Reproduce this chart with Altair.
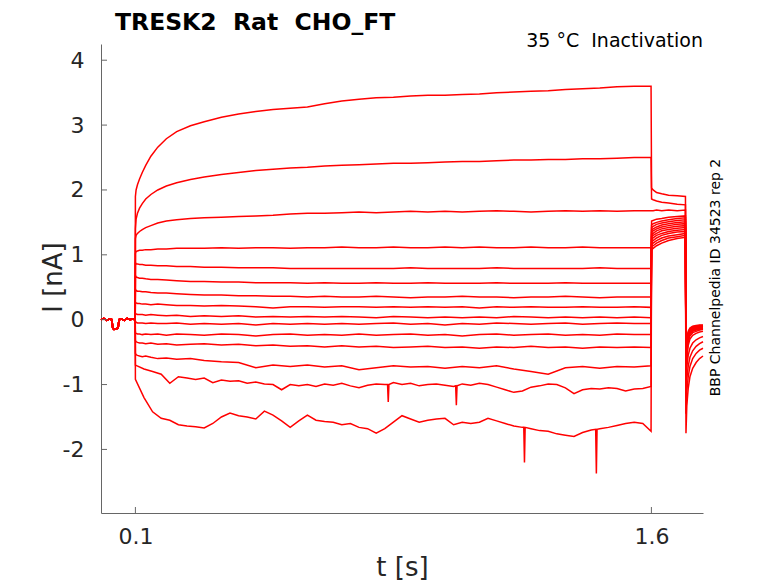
import altair as alt
import pandas as pd

# ---------------- data ----------------
T_BASE = [0.0, 0.008, 0.016, 0.024, 0.032, 0.034, 0.038, 0.044, 0.05, 0.052, 0.06, 0.068, 0.076, 0.084, 0.092, 0.0995]
I_BASE = [0.0, 0.02, -0.01, 0.01, 0.0, -0.13, -0.15, -0.14, -0.13, 0.0, 0.01, -0.01, 0.02, 0.0, 0.01, 0.0]

T_PULSE = [0.1, 0.102, 0.106, 0.112, 0.12, 0.13, 0.145, 0.165, 0.19, 0.22, 0.26, 0.3, 0.35, 0.4, 0.45, 0.5,
           0.55, 0.6, 0.65, 0.7, 0.75, 0.8, 0.85, 0.9, 0.95, 1.0, 1.05, 1.1, 1.15, 1.2, 1.25, 1.3, 1.35, 1.4,
           1.45, 1.5, 1.55, 1.599]
T_FINE = [0.1, 0.125, 0.15, 0.175, 0.2, 0.225, 0.25, 0.275, 0.3, 0.325, 0.35, 0.375, 0.4, 0.425, 0.45,
          0.475, 0.5, 0.525, 0.55, 0.575, 0.6, 0.625, 0.65, 0.675, 0.7, 0.725, 0.75, 0.775, 0.8, 0.825,
          0.85, 0.875, 0.9, 0.925, 0.95, 0.975, 1.0, 1.025, 1.05, 1.075, 1.1, 1.125, 1.15, 1.175, 1.2,
          1.225, 1.25, 1.275, 1.3, 1.325, 1.35, 1.375, 1.4, 1.425, 1.45, 1.475, 1.5, 1.525, 1.55, 1.575, 1.599]
T_TAIL = [1.6005, 1.605, 1.615, 1.63, 1.65, 1.675, 1.699]
T_POST = [1.7005, 1.703, 1.707, 1.712, 1.72, 1.73, 1.74, 1.75]

P01 = [1.9, 2.0, 2.08, 2.17, 2.27, 2.38, 2.52, 2.66, 2.79, 2.9, 2.99, 3.05, 3.12, 3.17, 3.21, 3.24, 3.26, 3.28,
       3.33, 3.37, 3.4, 3.42, 3.43, 3.45, 3.46, 3.46, 3.47, 3.48, 3.5, 3.51, 3.52, 3.53, 3.55, 3.56, 3.57, 3.59,
       3.6, 3.6]
P02 = [1.4, 1.55, 1.64, 1.72, 1.79, 1.86, 1.93, 2.0, 2.06, 2.11, 2.16, 2.2, 2.24, 2.27, 2.3, 2.32, 2.34, 2.35,
       2.37, 2.38, 2.39, 2.4, 2.41, 2.41, 2.42, 2.43, 2.44, 2.44, 2.45, 2.46, 2.46, 2.47, 2.47, 2.48, 2.48, 2.49,
       2.5, 2.5]
P03 = [1.25, 1.3, 1.33, 1.36, 1.39, 1.42, 1.45, 1.49, 1.52, 1.54, 1.56, 1.57, 1.58, 1.59, 1.6, 1.61, 1.63, 1.64,
       1.64, 1.65, 1.66, 1.65, 1.66, 1.67, 1.66, 1.67, 1.66, 1.67, 1.68, 1.67, 1.66, 1.67, 1.68, 1.67, 1.68, 1.67,
       1.68, 1.68]
P04 = [1.02, 1.05, 1.06, 1.07, 1.07, 1.08, 1.08, 1.09, 1.09, 1.1, 1.1, 1.1, 1.11, 1.1, 1.11, 1.11, 1.1, 1.11,
       1.11, 1.12, 1.11, 1.11, 1.12, 1.11, 1.11, 1.12, 1.11, 1.12, 1.11, 1.11, 1.12, 1.11, 1.11, 1.12, 1.11, 1.11,
       1.11, 1.11]
P05 = [0.88, 0.86, 0.86, 0.85, 0.85, 0.84, 0.84, 0.83, 0.83, 0.82, 0.82, 0.81, 0.81, 0.8, 0.8, 0.8, 0.79, 0.79,
       0.79, 0.79, 0.79, 0.79, 0.79, 0.8, 0.79, 0.79, 0.79, 0.79, 0.8, 0.79, 0.79, 0.79, 0.79, 0.79, 0.8, 0.79,
       0.79, 0.79]
P06 = [0.68, 0.66, 0.65, 0.64, 0.64, 0.63, 0.62, 0.62, 0.61, 0.6, 0.59, 0.59, 0.58, 0.58, 0.57, 0.57, 0.57, 0.56,
       0.57, 0.56, 0.56, 0.57, 0.56, 0.56, 0.57, 0.56, 0.56, 0.56, 0.57, 0.56, 0.56, 0.56, 0.57, 0.56, 0.56, 0.56,
       0.56, 0.56]
P07 = [0.47, 0.45, 0.44, 0.44, 0.43, 0.43, 0.42, 0.41, 0.41, 0.4, 0.39, 0.38, 0.38, 0.37, 0.37, 0.36, 0.36, 0.35,
       0.36, 0.35, 0.35, 0.36, 0.35, 0.34, 0.35, 0.35, 0.36, 0.35, 0.35, 0.34, 0.35, 0.35, 0.36, 0.35, 0.34, 0.35,
       0.35, 0.35]
P08 = [0.27, 0.26, 0.25, 0.25, 0.24, 0.24, 0.23, 0.24, 0.23, 0.22, 0.22, 0.21, 0.22, 0.21, 0.2, 0.18, 0.2, 0.2,
       0.19, 0.2, 0.2, 0.19, 0.2, 0.19, 0.2, 0.19, 0.2, 0.18, 0.2, 0.19, 0.2, 0.19, 0.19, 0.2, 0.19, 0.19, 0.2, 0.19]
P09 = [0.1, 0.09, 0.08, 0.08, 0.08, 0.07, 0.08, 0.07, 0.06, 0.07, 0.05, 0.06, 0.05, 0.06, 0.04, 0.05, 0.04, 0.05,
       0.04, 0.05, 0.04, 0.03, 0.05, 0.04, 0.03, 0.04, 0.03, 0.04, 0.03, 0.05, 0.04, 0.03, 0.04, 0.03, 0.04, 0.03,
       0.04, 0.03]
P10 = [-0.03, -0.04, -0.05, -0.05, -0.05, -0.06, -0.05, -0.06, -0.06, -0.05, -0.07, -0.06, -0.07, -0.06, -0.08,
       -0.06, -0.07, -0.06, -0.07, -0.06, -0.07, -0.06, -0.05, -0.07, -0.06, -0.08, -0.06, -0.07, -0.05, -0.06,
       -0.07, -0.06, -0.05, -0.07, -0.06, -0.05, -0.06, -0.06]
P11 = [-0.2, -0.21, -0.22, -0.22, -0.23, -0.22, -0.23, -0.22, -0.24, -0.22, -0.23, -0.24, -0.22, -0.23, -0.25,
       -0.23, -0.22, -0.24, -0.23, -0.24, -0.22, -0.24, -0.23, -0.22, -0.24, -0.23, -0.25, -0.23, -0.22, -0.24,
       -0.23, -0.22, -0.24, -0.23, -0.24, -0.22, -0.23, -0.23]
P12 = [-0.32, -0.34, -0.35, -0.36, -0.36, -0.37, -0.36, -0.38, -0.37, -0.39, -0.38, -0.37, -0.39, -0.38, -0.4,
       -0.39, -0.41, -0.4, -0.42, -0.4, -0.42, -0.41, -0.43, -0.42, -0.41, -0.43, -0.42, -0.44, -0.42, -0.43,
       -0.41, -0.43, -0.42, -0.44, -0.42, -0.43, -0.42, -0.43]
P13 = [-0.52, -0.54, -0.55, -0.56, -0.57, -0.56, -0.58, -0.6, -0.59, -0.61, -0.6, -0.63, -0.65, -0.66, -0.74,
       -0.7, -0.72, -0.7, -0.73, -0.71, -0.77, -0.74, -0.71, -0.73, -0.72, -0.75, -0.72, -0.74, -0.71, -0.76,
       -0.8, -0.84, -0.74, -0.72, -0.75, -0.72, -0.73, -0.71]
# the two noisiest traces, read on the finer time grid
P14 = [-0.7, -0.76, -0.8, -0.84, -0.98, -0.88, -0.9, -0.92, -0.9, -0.97, -0.93, -0.95, -0.94, -0.98, -0.96,
       -0.99, -1.0, -1.08, -1.0, -1.02, -1.0, -1.03, -0.99, -1.01, -0.98, -1.02, -1.05, -1.01, -0.99, -1.0,
       -0.97, -1.0, -0.98, -1.02, -1.0, -0.99, -1.01, -1.03, -0.99, -1.01, -0.98, -1.0, -1.04, -1.08, -1.12,
       -1.1, -1.04, -1.02, -0.99, -1.0, -1.05, -1.14, -1.08, -1.06, -1.07, -1.05, -1.06, -1.1, -1.07, -1.06,
       -1.03]
P15 = [-0.92, -1.2, -1.42, -1.52, -1.55, -1.62, -1.64, -1.65, -1.67, -1.6, -1.5, -1.44, -1.48, -1.5, -1.53,
       -1.41, -1.47, -1.56, -1.66, -1.56, -1.47, -1.55, -1.57, -1.58, -1.62, -1.6, -1.66, -1.68, -1.75, -1.68,
       -1.58, -1.48, -1.53, -1.58, -1.55, -1.53, -1.52, -1.62, -1.58, -1.6, -1.58, -1.52, -1.56, -1.6, -1.64,
       -1.66, -1.68, -1.71, -1.72, -1.76, -1.78, -1.8, -1.74, -1.7, -1.68, -1.66, -1.63, -1.6, -1.58, -1.6,
       -1.72]

# tail step (1.6 s - 1.7 s), one row per trace
TAIL01 = [2.03, 2.0, 1.96, 1.94, 1.92, 1.91, 1.9]
TAIL02 = [1.86, 1.85, 1.83, 1.81, 1.8, 1.78, 1.77]
TAIL03 = [1.68, 1.68, 1.69, 1.68, 1.69, 1.68, 1.69]
TAIL04 = [1.08, 1.1, 1.14, 1.18, 1.22, 1.25, 1.27]
TAIL05 = [1.12, 1.14, 1.18, 1.22, 1.26, 1.28, 1.3]
TAIL06 = [1.16, 1.18, 1.22, 1.26, 1.29, 1.31, 1.33]
TAIL07 = [1.2, 1.22, 1.26, 1.3, 1.33, 1.35, 1.36]
TAIL08 = [1.24, 1.26, 1.3, 1.33, 1.36, 1.38, 1.39]
TAIL09 = [1.28, 1.3, 1.33, 1.37, 1.39, 1.41, 1.42]
TAIL10 = [1.31, 1.33, 1.37, 1.4, 1.42, 1.44, 1.45]
TAIL11 = [1.35, 1.37, 1.4, 1.43, 1.45, 1.47, 1.48]
TAIL12 = [1.38, 1.4, 1.43, 1.46, 1.48, 1.5, 1.51]
TAIL13 = [1.42, 1.44, 1.47, 1.49, 1.51, 1.53, 1.54]
TAIL14 = [1.46, 1.48, 1.5, 1.52, 1.54, 1.56, 1.57]
TAIL15 = [1.52, 1.53, 1.55, 1.56, 1.58, 1.59, 1.6]

# after the tail step (1.7 s - 1.75 s)
POST01 = [-0.55, -0.3, -0.18, -0.13, -0.1, -0.09, -0.08, -0.08]
POST02 = [-0.6, -0.33, -0.2, -0.14, -0.11, -0.1, -0.09, -0.09]
POST03 = [-0.62, -0.35, -0.21, -0.15, -0.12, -0.11, -0.1, -0.1]
POST04 = [-0.65, -0.37, -0.23, -0.16, -0.13, -0.12, -0.11, -0.1]
POST05 = [-0.68, -0.39, -0.24, -0.17, -0.14, -0.12, -0.11, -0.11]
POST06 = [-0.7, -0.41, -0.26, -0.18, -0.15, -0.13, -0.12, -0.12]
POST07 = [-0.73, -0.43, -0.27, -0.19, -0.16, -0.14, -0.13, -0.12]
POST08 = [-0.76, -0.45, -0.29, -0.21, -0.17, -0.15, -0.14, -0.13]
POST09 = [-0.8, -0.48, -0.31, -0.22, -0.18, -0.16, -0.15, -0.14]
POST10 = [-0.85, -0.52, -0.34, -0.25, -0.2, -0.18, -0.16, -0.15]
POST11 = [-0.9, -0.58, -0.4, -0.3, -0.24, -0.21, -0.19, -0.18]
POST12 = [-1.0, -0.72, -0.55, -0.44, -0.36, -0.31, -0.28, -0.26]
POST13 = [-1.2, -0.9, -0.72, -0.58, -0.48, -0.41, -0.37, -0.34]
POST14 = [-1.45, -1.1, -0.88, -0.72, -0.6, -0.52, -0.47, -0.44]
POST15 = [-1.75, -1.32, -1.06, -0.88, -0.75, -0.66, -0.6, -0.56]

# narrow downward spikes on the two lowest traces
SPIKE_TRACE = [14, 14, 14, 14, 14, 14, 15, 15, 15, 15, 15, 15]
SPIKE_T = [0.833, 0.835, 0.837, 1.031, 1.033, 1.035, 1.229, 1.231, 1.233, 1.438, 1.44, 1.442]
SPIKE_I = [-1.0, -1.27, -1.0, -1.02, -1.32, -1.02, -1.66, -2.2, -1.66, -1.69, -2.37, -1.69]

X_TICKS = [0.1, 1.6]
Y_TICKS = [-2, -1, 0, 1, 2, 3, 4]

TITLE = "TRESK2\u00a0\u00a0Rat\u00a0\u00a0CHO_FT"
CONDITION = "35 \u00b0C\u00a0\u00a0Inactivation"
SOURCE = "BBP Channelpedia ID 34523 rep 2"

# ---------------- assemble the table ----------------
PULSES = [P01, P02, P03, P04, P05, P06, P07, P08, P09, P10, P11, P12, P13, P14, P15]
TAILS = [TAIL01, TAIL02, TAIL03, TAIL04, TAIL05, TAIL06, TAIL07, TAIL08, TAIL09, TAIL10,
         TAIL11, TAIL12, TAIL13, TAIL14, TAIL15]
POSTS = [POST01, POST02, POST03, POST04, POST05, POST06, POST07, POST08, POST09, POST10,
         POST11, POST12, POST13, POST14, POST15]

rows = []
for n, (pulse, tail, post) in enumerate(zip(PULSES, TAILS, POSTS), start=1):
    t_pulse = T_FINE if n >= 14 else T_PULSE
    assert len(pulse) == len(t_pulse), n
    assert len(tail) == len(T_TAIL) and len(post) == len(T_POST), n
    pts = list(zip(T_BASE, I_BASE)) + list(zip(t_pulse, pulse)) + list(zip(T_TAIL, tail)) + list(zip(T_POST, post))
    pts += [(t, v) for tr, t, v in zip(SPIKE_TRACE, SPIKE_T, SPIKE_I) if tr == n]
    pts.sort(key=lambda p: p[0])
    for k, (t, v) in enumerate(pts):
        rows.append({"trace": n, "k": k, "t": t, "i": v})
df = pd.DataFrame(rows)

FONT = "DejaVu Sans"
W, H = 602, 469
XDOM = [0, 1.75]
YDOM = [-2.98, 4.25]
AX = "#666666"
LAB = "#262626"

xscale = alt.Scale(domain=XDOM, nice=False, zero=False)
yscale = alt.Scale(domain=YDOM, nice=False, zero=False)

xaxis = alt.Axis(
    values=X_TICKS, format=".1f", title="t [s]", grid=False, ticks=False, tickSize=0,
    domainColor=AX, domainWidth=1, labelFont=FONT, labelFontSize=22, labelColor=LAB,
    labelBaseline="alphabetic", labelPadding=30, labelFlush=False,
    titleFont=FONT, titleFontSize=26, titleFontWeight="normal", titleColor=LAB,
    titleX=301, titleY=62, titleBaseline="alphabetic")
yaxis = alt.Axis(
    values=Y_TICKS, title="I [nA]", grid=False, ticks=False, tickSize=0,
    labelExpr="datum.value < 0 ? '-' + abs(datum.value) : '' + datum.value",
    domainColor=AX, domainWidth=1, labelFont=FONT, labelFontSize=22, labelColor=LAB,
    labelPadding=17, labelFlush=False,
    titleFont=FONT, titleFontSize=26, titleFontWeight="normal", titleColor=LAB,
    titleX=-40, titleY=233, titleAngle=270, titleBaseline="alphabetic")

lines = alt.Chart(df).mark_line(color="#ff0000", strokeWidth=1.5).encode(
    x=alt.X("t:Q", scale=xscale, axis=xaxis, title="t [s]"),
    y=alt.Y("i:Q", scale=yscale, axis=yaxis, title="I [nA]"),
    detail="trace:N",
    order="k:Q",
)

# inward-pointing tick marks, placed by the same scales as the traces
xticks = alt.Chart(pd.DataFrame({"v": X_TICKS})).mark_rule(color=AX, strokeWidth=1).encode(
    x=alt.X("v:Q", scale=xscale, axis=xaxis, title="t [s]"), y=alt.value(H), y2=alt.value(H - 6))
yticks = alt.Chart(pd.DataFrame({"v": Y_TICKS})).mark_rule(color=AX, strokeWidth=1).encode(
    y=alt.Y("v:Q", scale=yscale, axis=yaxis, title="I [nA]"), x=alt.value(0), x2=alt.value(6))

one = pd.DataFrame({"s": [0]})
title = alt.Chart(one).mark_text(text=TITLE, font=FONT, fontSize=23.5, fontWeight="bold", color="#000000",
                                 align="left", baseline="alphabetic").encode(x=alt.value(14), y=alt.value(-14))
cond = alt.Chart(one).mark_text(text=CONDITION, font=FONT, fontSize=19, color="#000000",
                                align="right", baseline="middle").encode(x=alt.value(W), y=alt.value(-3))
source = alt.Chart(one).mark_text(text=SOURCE, font=FONT, fontSize=14, color="#000000", angle=270,
                                  align="center", baseline="middle").encode(x=alt.value(615), y=alt.value(233.5))

chart = alt.layer(lines, xticks, yticks, title, cond, source).properties(
    width=W, height=H,
    autosize=alt.AutoSizeParams(type="none"),
    padding={"left": 93, "top": 36, "right": 60, "bottom": 67},
    background="white",
).configure_view(stroke=None)

chart.save("out.html", embed_options={"renderer": "svg", "actions": False})
